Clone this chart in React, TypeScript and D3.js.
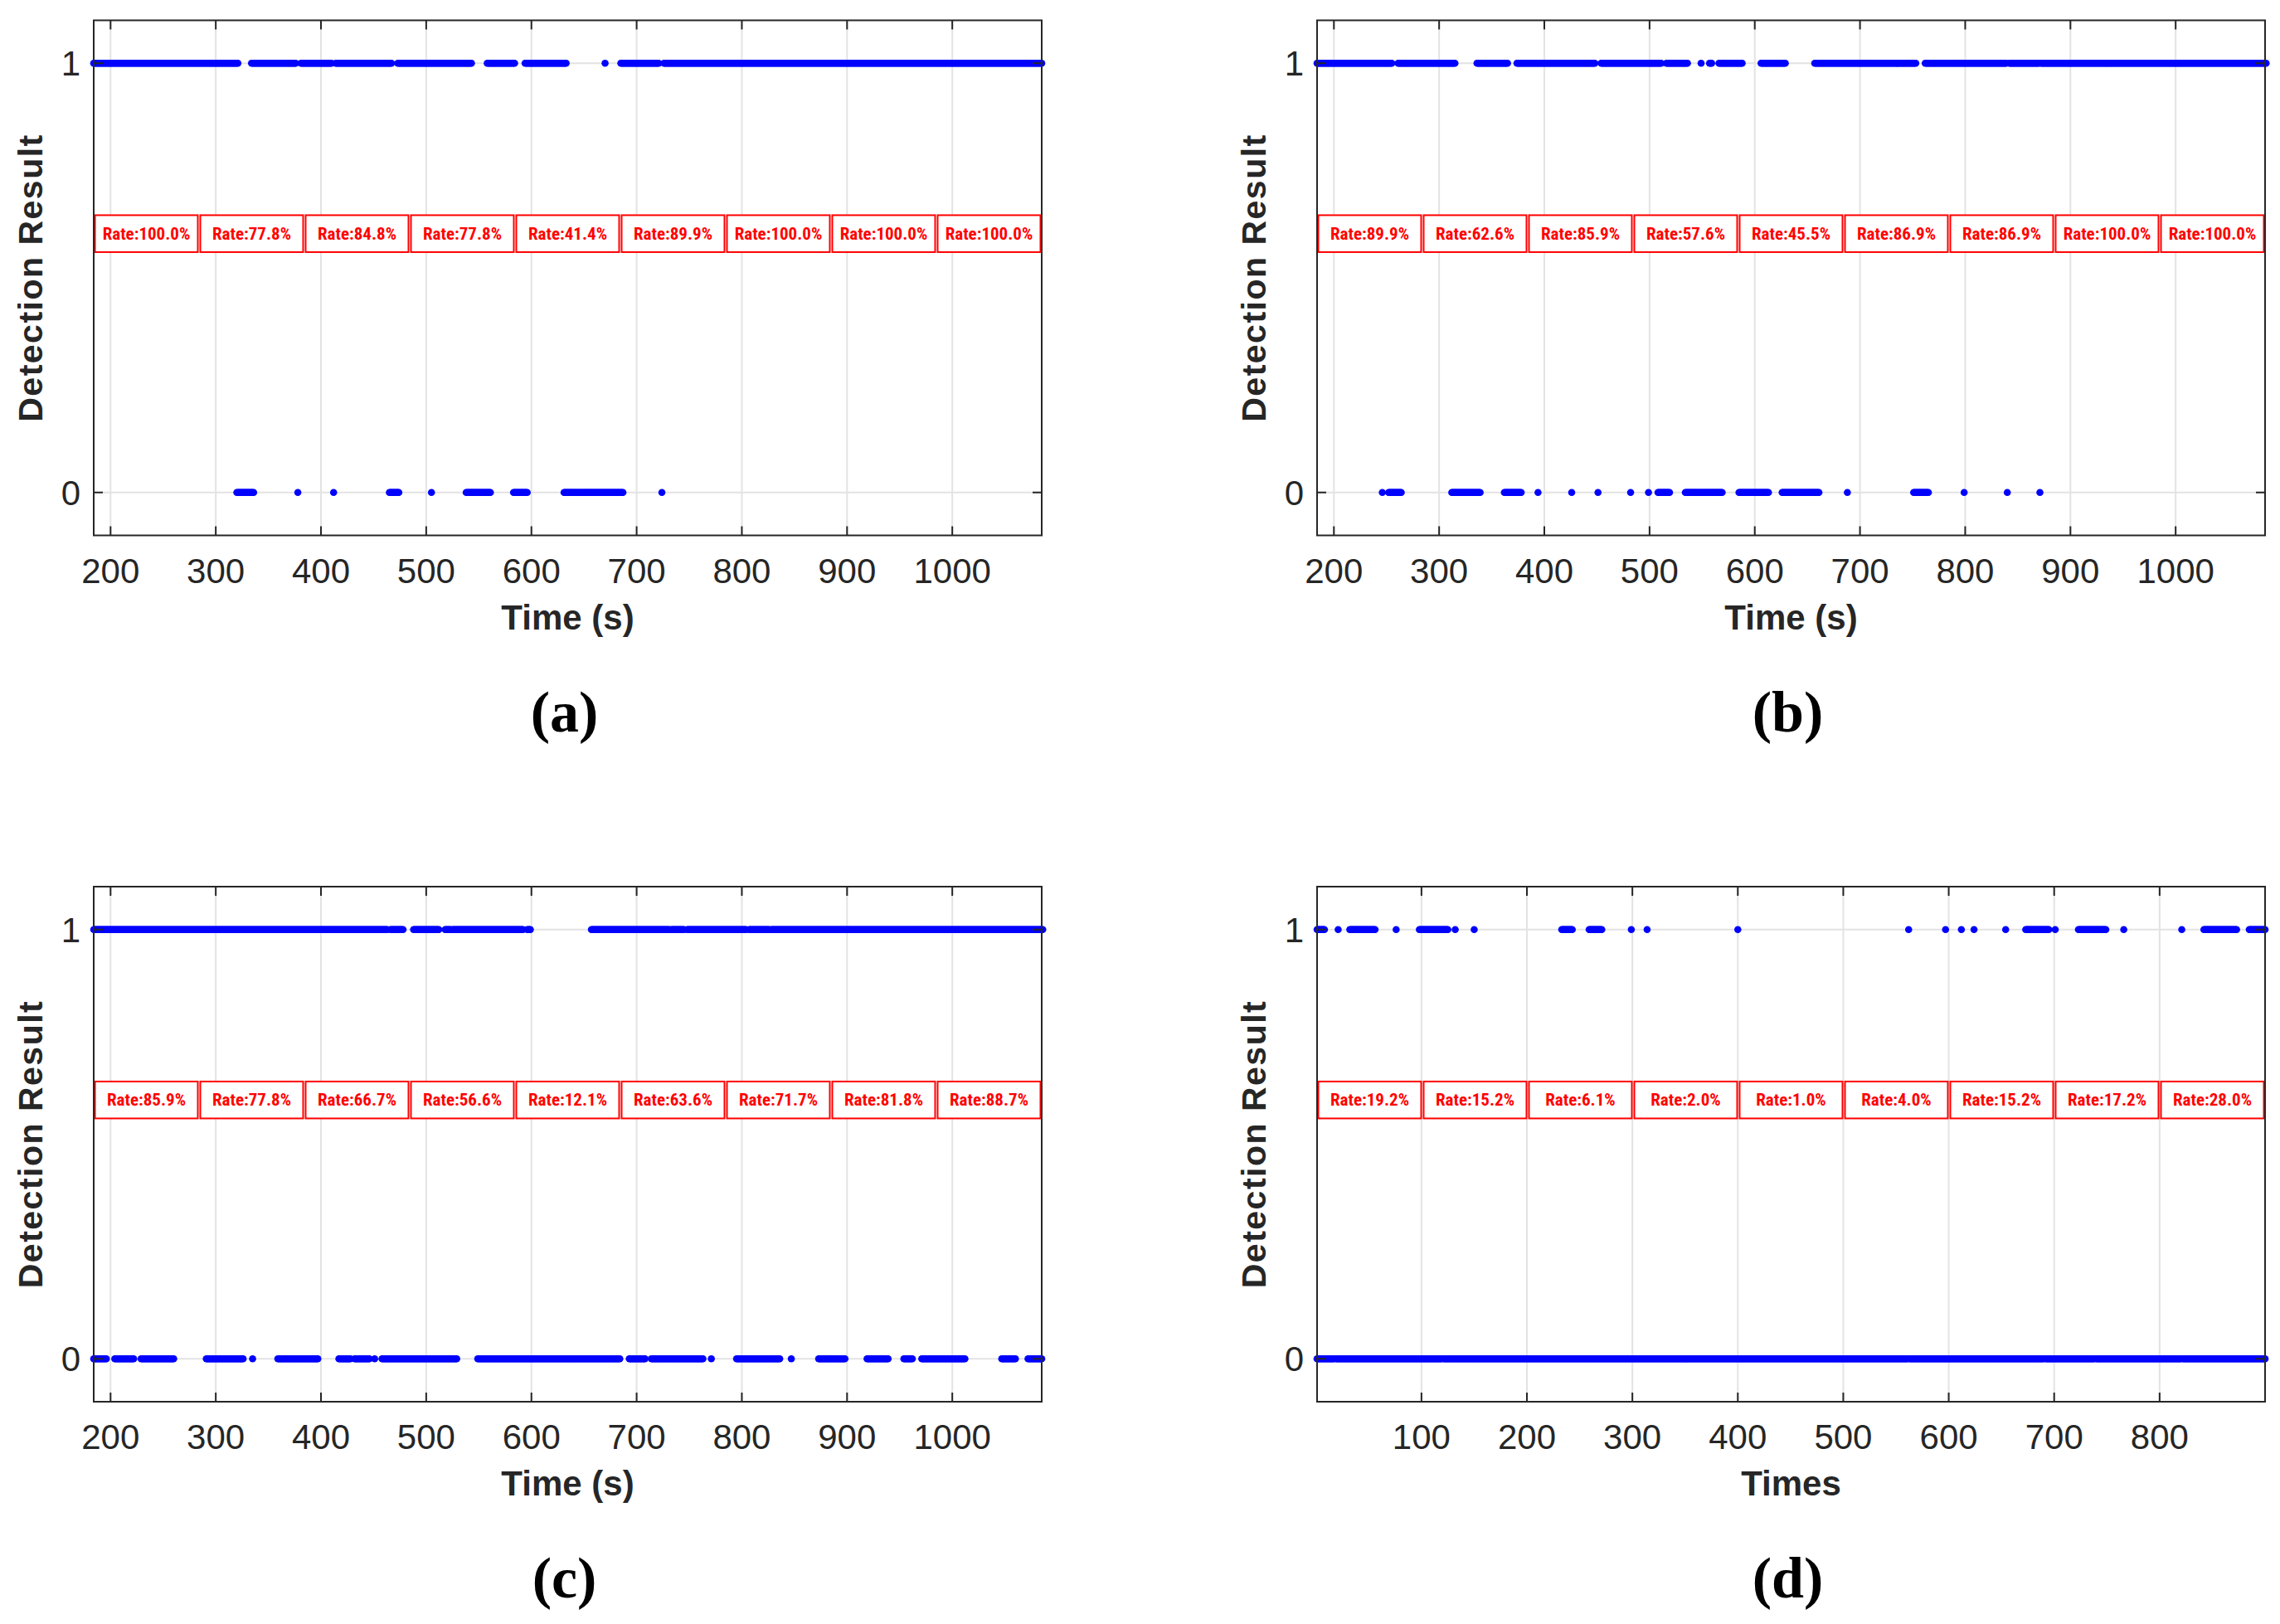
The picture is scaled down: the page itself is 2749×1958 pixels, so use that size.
import React from "react";
import * as d3 from "d3";

// Runs of detections [start, end] (time), sampled every 1 unit
const onesA = [[184,321],[334,376],[381,410],[414,467],[473,543],[558,584],[594,633],[670,670],[685,721],[726,1085]];
const zerosA = [[320,336],[378,378],[412,412],[465,474],[505,505],[538,561],[583,596],[631,687],[724,724]];
const ratesA = ["100.0%","77.8%","84.8%","77.8%","41.4%","89.9%","100.0%","100.0%","100.0%"];

const onesB = [[184,255],[261,315],[336,365],[374,448],[454,511],[516,536],[549,549],[557,559],[566,588],[606,629],[657,753],[762,839],[842,870],[872,1086]];
const zerosB = [[246,246],[252,264],[312,339],[362,378],[394,394],[426,426],[451,451],[482,482],[499,499],[508,519],[534,569],[585,613],[626,661],[688,688],[751,765],[799,799],[840,840],[871,871]];
const ratesB = ["89.9%","62.6%","85.9%","57.6%","45.5%","86.9%","86.9%","100.0%","100.0%"];

const onesC = [[184,463],[466,478],[488,512],[518,523],[525,592],[596,599],[657,731],[733,745],[748,804],[807,826],[828,1086]];
const zerosC = [[184,196],[204,222],[229,260],[291,326],[335,335],[359,397],[417,428],[432,446],[451,451],[458,529],[549,684],[693,708],[714,763],[771,771],[795,836],[847,847],[873,898],[919,939],[954,962],[971,1012],[1047,1060],[1072,1085]];
const ratesC = ["85.9%","77.8%","66.7%","56.6%","12.1%","63.6%","71.7%","81.8%","88.7%"];

const onesD = [[1,8],[21,21],[32,56],[76,76],[98,125],[132,132],[150,150],[233,243],[259,271],[299,299],[314,314],[400,400],[562,562],[597,597],[612,612],[624,624],[654,654],[673,695],[701,701],[723,749],[766,766],[821,821],[842,873],[885,900]];
const zerosD = [[1,17],[19,119],[121,561],[563,690],[692,738],[740,820],[822,900]];
const ratesD = ["19.2%","15.2%","6.1%","2.0%","1.0%","4.0%","15.2%","17.2%","28.0%"];

const ticksTime = [200,300,400,500,600,700,800,900,1000];
const ticksTimes = [100,200,300,400,500,600,700,800];
const yTicks = [0,1];

const expand = (runs: number[][]) => {
  const out: number[] = [];
  runs.forEach(([s, e]) => { for (let t = s; t <= e; t += 1) out.push(t); });
  return out;
};

const INK = "#262626";
const FONT = "Arial, 'Liberation Sans', sans-serif";
const NARROW = "'Liberation Sans Narrow', 'Roboto Condensed', Arial, sans-serif";

function Panel(props: any) {
  const { left, top, domain, ticks, ones, zeros, rates, xlabel, caption } = props;
  const W = 1143, H = 621;
  const x = d3.scaleLinear().domain(domain).range([left, left + W]);
  const y = d3.scaleLinear().domain([-0.1, 1.1]).range([top + H, top]);
  const bin0 = domain[0];
  const bw = (domain[1] - domain[0]) / 9;
  return (
    <g>
      {ticks.map((t: number) => (
        <line key={"g" + t} x1={x(t)} x2={x(t)} y1={top} y2={top + H} stroke="#e3e3e3" strokeWidth={2} />
      ))}
      {yTicks.map((t) => (
        <line key={"h" + t} x1={left} x2={left + W} y1={y(t)} y2={y(t)} stroke="#e3e3e3" strokeWidth={2} />
      ))}
      {expand(ones).map((t, i) => <circle key={"o" + i} cx={x(t)} cy={y(1)} r={4.3} fill="#0000ff" />)}
      {expand(zeros).map((t, i) => <circle key={"z" + i} cx={x(t)} cy={y(0)} r={4.3} fill="#0000ff" />)}
      {rates.map((r: string, i: number) => {
        const x0 = x(bin0 + bw * i) + 1.5, x1 = x(bin0 + bw * (i + 1)) - 1.5;
        return (
          <g key={"r" + i}>
            <rect x={x0} y={y(0.646)} width={x1 - x0} height={y(0.56) - y(0.646)} fill="white" stroke="#ff0000" strokeWidth={2} />
            <text x={(x0 + x1) / 2} y={(y(0.646) + y(0.56)) / 2 + 7} textAnchor="middle" fontFamily={NARROW} fontWeight="bold" fontSize={21} fill="#ff0000">{"Rate:" + r}</text>
          </g>
        );
      })}
      <rect x={left} y={top} width={W} height={H} fill="none" stroke={INK} strokeWidth={2} />
      {ticks.map((t: number) => (
        <g key={"t" + t}>
          <line x1={x(t)} x2={x(t)} y1={top + H} y2={top + H - 11} stroke={INK} strokeWidth={2} />
          <line x1={x(t)} x2={x(t)} y1={top} y2={top + 11} stroke={INK} strokeWidth={2} />
          <text x={x(t)} y={top + H + 57} textAnchor="middle" fontFamily={FONT} fontSize={42} fill={INK}>{t}</text>
        </g>
      ))}
      {yTicks.map((t) => (
        <g key={"y" + t}>
          <line x1={left} x2={left + 11} y1={y(t)} y2={y(t)} stroke={INK} strokeWidth={2} />
          <line x1={left + W} x2={left + W - 11} y1={y(t)} y2={y(t)} stroke={INK} strokeWidth={2} />
          <text x={left - 16} y={y(t) + 15} textAnchor="end" fontFamily={FONT} fontSize={42} fill={INK}>{t}</text>
        </g>
      ))}
      <text x={left + W / 2} y={top + H + 113} textAnchor="middle" fontFamily={FONT} fontWeight="bold" fontSize={42} fill={INK}>{xlabel}</text>
      <text transform={`translate(${left - 62},${top + H / 2}) rotate(-90)`} textAnchor="middle" fontFamily={FONT} fontWeight="bold" fontSize={41} letterSpacing={1.5} fill={INK}>Detection Result</text>
      <text x={left + W / 2 - 4} y={top + H + 236} textAnchor="middle" fontFamily="'Liberation Serif', 'DejaVu Serif', serif" fontWeight="bold" fontSize={70} fill="#000">{caption}</text>
    </g>
  );
}

export default function App() {
  return (
    <svg width={2749} height={1958} style={{ display: "block", position: "absolute", left: 0, top: 0 }}>
      <rect width={2749} height={1958} fill="white" />
      <Panel left={113} top={24.5} domain={[184, 1085]} ticks={ticksTime} ones={onesA} zeros={zerosA} rates={ratesA} xlabel="Time (s)" caption="(a)" />
      <Panel left={1588} top={24.5} domain={[184, 1085]} ticks={ticksTime} ones={onesB} zeros={zerosB} rates={ratesB} xlabel="Time (s)" caption="(b)" />
      <Panel left={113} top={1069} domain={[184, 1085]} ticks={ticksTime} ones={onesC} zeros={zerosC} rates={ratesC} xlabel="Time (s)" caption="(c)" />
      <Panel left={1588} top={1069} domain={[1, 900]} ticks={ticksTimes} ones={onesD} zeros={zerosD} rates={ratesD} xlabel="Times" caption="(d)" />
    </svg>
  );
}
